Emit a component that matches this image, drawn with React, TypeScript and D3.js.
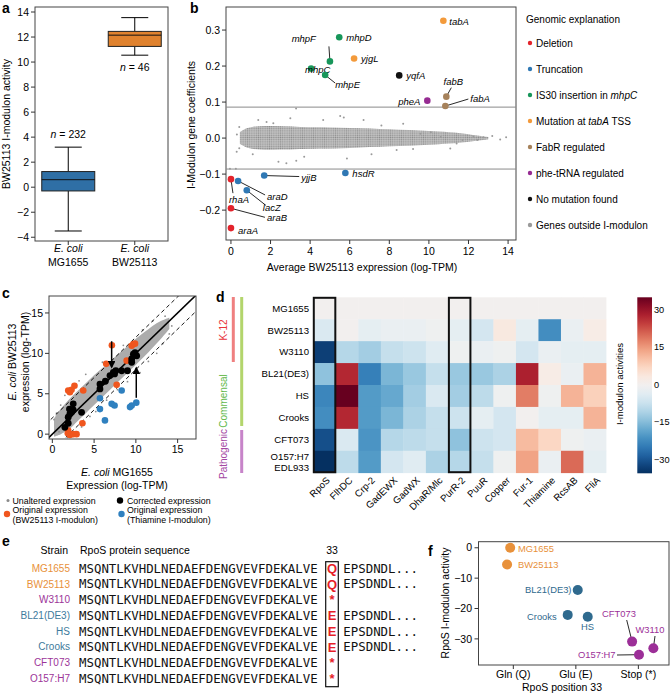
import React from 'react';
import * as d3 from 'd3';

const FONT = '"Liberation Sans", Arial, Helvetica, sans-serif';
const MONO = '"DejaVu Sans Mono", "Liberation Mono", monospace';

// ---------------- Panel a data ----------------
const strainsA = ['MG1655', 'BW25113'];
const boxMin = [-3.5, 10.55];
const boxQ1 = [-0.3, 11.25];
const boxMedian = [0.6, 12.15];
const boxQ3 = [1.25, 12.45];
const boxMax = [3.2, 13.55];
const boxN = [232, 46];
const boxColors = ['#2f6fa5', '#e0822e'];
const ticksA = [-4, -2, 0, 2, 4, 6, 8, 10, 12, 14];

// ---------------- Panel b data ----------------
const groupNames = ['Deletion', 'Truncation', 'IS30 insertion in mhpC', 'Mutation at tabA TSS', 'FabR regulated', 'phe-tRNA regulated', 'No mutation found', 'Genes outside I-modulon'];
const groupColors = ['#e3232b', '#2f78b4', '#17965a', '#f39a3b', '#a6825b', '#962b92', '#111111', '#9a9a9a'];
const geneNames = ['tabA', 'mhpD', 'mhpF', 'yjgL', 'mhpC', 'mhpE', 'yqfA', 'fabB', 'pheA', 'fabA', 'yjjB', 'hsdR', 'rhaA', 'araD', 'lacZ', 'araB', 'araA'];
const geneExpr = [10.73, 5.47, 5.0, 6.22, 4.05, 4.76, 8.5, 10.88, 9.92, 10.83, 1.68, 5.78, 0.0, 0.36, 0.8, 0.0, 0.0];
const geneCoef = [0.326, 0.28, 0.213, 0.221, 0.193, 0.175, 0.174, 0.115, 0.104, 0.089, -0.104, -0.097, -0.114, -0.119, -0.145, -0.195, -0.25];
const geneGroup = [3, 2, 2, 3, 2, 2, 6, 4, 5, 4, 1, 1, 0, 1, 1, 0, 0];
const threshold = 0.086;
const cloudBX = [0.45, 0.8, 1.5, 2.5, 3.5, 4.5, 5.5, 6.5, 7.5, 8.5, 9.5, 10.5, 11.5, 12.3, 13.0];
const cloudBHi = [0.016, 0.027, 0.033, 0.033, 0.031, 0.03, 0.029, 0.027, 0.025, 0.023, 0.021, 0.018, 0.014, 0.008, 0.003];
const cloudBLo = [-0.016, -0.026, -0.032, -0.032, -0.03, -0.029, -0.028, -0.026, -0.024, -0.022, -0.02, -0.017, -0.013, -0.008, -0.003];
const outBX = [1.38, 3.29, 5.52, 5.7, 6.7, 3.0, 2.14, 0.42, 0.3, 0.29, 0.42, 2.8, 3.3, 2.4, 3.7, 5.86, -0.05, 0.25, 7.1, 8.37, 11.08, 11.4, 10.6, 11.7, 12.25, 12.45, 12.76, 9.57, 10.1, 4.66, 8.7, 13.2, 13.6, 13.9, 1.1, 1.8, 7.6, 9.2];
const outBY = [0.05, 0.082, 0.061, 0.057, 0.05, 0.055, 0.041, 0.031, 0.01, -0.038, -0.028, -0.07, -0.063, -0.066, -0.052, -0.057, -0.085, -0.085, -0.045, -0.033, -0.029, -0.015, 0.003, -0.005, 0.004, -0.005, 0.002, 0.012, 0.016, 0.05, 0.04, 0.006, -0.004, 0.002, -0.045, 0.045, 0.035, -0.03];

// ---------------- Panel c data ----------------
const origBWX = [7.13, 9.5, 9.7, 9.9, 6.45, 8.9, 7.7, 1.9, 2.3, 2.65, 2.1, 3.7, 3.6, 1.9, 2.1, 2.5, 2.9, 1.85];
const origBWY = [11.0, 10.95, 11.15, 11.2, 8.7, 9.1, 6.1, 5.4, 5.5, 6.0, 5.2, 5.4, 1.35, 0.45, -0.1, 0.0, 0.0, 0.1];
const origThX = [5.7, 5.7, 7.1, 7.45, 8.3, 6.3, 9.3, 9.5, 10.05];
const origThY = [4.45, 3.1, 3.75, 3.55, 5.4, 1.7, 3.35, 3.55, 3.9];
const corrX = [2.05, 2.3, 2.5, 2.1, 1.9, 1.5, 1.9, 3.5, 5.7, 6.35, 5.7, 7.3, 7.6, 7.45, 6.9, 8.3, 9.0, 9.5, 9.7, 9.9, 10.1, 9.5, 2.5];
const corrY = [3.1, 2.7, 3.0, 2.5, 2.1, 0.85, 1.35, 2.7, 6.2, 6.55, 5.6, 7.65, 7.85, 7.45, 7.25, 7.85, 7.85, 8.9, 9.9, 10.1, 9.7, 9.3, 3.75];
const cloudCX = [0.2, 1, 2, 3, 4, 5, 6, 7, 8, 9, 10, 11, 12, 13, 14];
const cloudCHi = [1.9, 3.1, 4.3, 5.3, 6.3, 7.3, 8.2, 9.1, 10.0, 10.9, 11.8, 12.6, 13.4, 14.0, 14.4];
const cloudCLo = [-0.3, 0.0, 0.6, 1.6, 2.6, 3.6, 4.6, 5.6, 6.6, 7.6, 8.6, 9.6, 10.7, 11.8, 13.0];
const outCX = [0.2, 0.5, 0.8, 1.0, 1.5, 3.2, 4.0, 4.5, 5.2, 6.5, 7.8, 9.0, 10.5, 11.5, 12.5, 13.2, 14.0, 14.3, 13.5, 12.0, 10.8, 8.5, 6.0, 1.8, 2.8, 3.5];
const outCY = [1.8, 2.6, 0.3, 3.6, 4.8, 6.6, 7.4, 2.2, 2.8, 4.2, 5.5, 6.5, 7.6, 9.0, 10.0, 11.2, 12.4, 13.4, 14.6, 14.0, 12.9, 11.0, 8.9, -0.4, 0.3, 0.9];
const arrowDown = [7.1, 11.5, 8.3];
const arrowUp = [10.05, 4.5, 8.2];

// ---------------- Panel d data ----------------
const heatRows = ['MG1655', 'BW25113', 'W3110', 'BL21(DE3)', 'HS', 'Crooks', 'CFT073', 'O157:H7\nEDL933'];
const heatCols = ['RpoS', 'FlhDC', 'Crp-2', 'GadEWX', 'GadWX', 'DhaR/Mlc', 'PurR-2', 'PuuR', 'Copper', 'Fur-1', 'Thiamine', 'RcsAB', 'FliA'];
const heatValues = [
  [0, 0, 0, 0, 0, 0, 0, 0, 0, 0, 0, 0, 0],
  [-5, 0, -3, -2, -2, -1, -3, -6, 3, -3, -22, -2, 2],
  [-33, -10, -12, -8, -7, -4, -1, -2, -1, -6, -2, -3, -3],
  [-14, 27, -24, -16, -13, -8, -13, -13, -11, 28, 2, -2, 12],
  [-23, 35, -20, -18, -12, -5, -12, -9, -1, 18, -1, 12, 8],
  [-22, 27, -20, -16, -11, -8, -7, -3, -6, 0, -3, -3, 12],
  [-31, -5, -21, -10, -9, -8, -14, -7, -6, 11, 7, -1, -2],
  [-35, -9, -20, -6, -4, -11, -10, -8, -1, 14, -2, 20, -3],
];
const highlightedCols = ['RpoS', 'PurR-2'];
const colorbarTicks = [30, 15, 0, -15, -30];

// ---------------- Panel e data ----------------
const seqStrains = ['MG1655', 'BW25113', 'W3110', 'BL21(DE3)', 'HS', 'Crooks', 'CFT073', 'O157:H7'];
const seqPrefix = 'MSQNTLKVHDLNEDAEFDENGVEVFDEKALVE';
const seqResidue33 = ['Q', 'Q', '*', 'E', 'E', 'E', '*', '*'];
const seqTail = ['EPSDNDL...', 'EPSDNDL...', '', 'EPSDNDL...', 'EPSDNDL...', 'EPSDNDL...', '', ''];
const strainColors = ['#e8913a', '#e8913a', '#9c3499', '#3d7a9c', '#3d7a9c', '#3d7a9c', '#9c3499', '#9c3499'];

// ---------------- Panel f data ----------------
const fCategories = ['Gln (Q)', 'Glu (E)', 'Stop (*)'];
const fStrains = ['MG1655', 'BW25113', 'BL21(DE3)', 'Crooks', 'HS', 'CFT073', 'W3110', 'O157:H7'];
const fCategory = [0, 0, 1, 1, 1, 2, 2, 2];
const fJitter = [-0.05, -0.1, 0.03, -0.13, 0.19, -0.1, 0.24, 0.01];
const fActivity = [0, -5.5, -13.9, -22.1, -22.7, -30.9, -33.1, -35.2];
const fColors = ['#e8913a', '#e8913a', '#2f6a8e', '#2f6a8e', '#2f6a8e', '#9c2f98', '#9c2f98', '#9c2f98'];
const fTicks = [0, -10, -20, -30];

const AX = '#333';
const FS = 10.5;

function PanelLabel({ x, y, t }: { x: number; y: number; t: string }) {
  return <text x={x} y={y} fontSize={14} fontWeight="bold" fill="#000">{t}</text>;
}

function PanelA() {
  const x = d3.scalePoint<string>().domain(strainsA).range([35, 168]).padding(0.5);
  const y = d3.scaleLinear().domain([-4.3, 14.4]).range([241, 7]);
  const bw = 53;
  const cap = 27;
  return (
    <g>
      <rect x={35} y={7} width={133} height={234} fill="none" stroke="#444" />
      {ticksA.map((t) => (
        <g key={t}>
          <line x1={31} x2={35} y1={y(t)} y2={y(t)} stroke={AX} />
          <text x={29} y={y(t)} dy="0.35em" textAnchor="end" fontSize={FS}>{d3.format('d')(t)}</text>
        </g>
      ))}
      {strainsA.map((s, i) => {
        const cx = x(s)!;
        return (
          <g key={s}>
            <line x1={cx} x2={cx} y1={y(boxMax[i])} y2={y(boxQ3[i])} stroke="#000" />
            <line x1={cx} x2={cx} y1={y(boxMin[i])} y2={y(boxQ1[i])} stroke="#000" />
            <line x1={cx - cap / 2} x2={cx + cap / 2} y1={y(boxMax[i])} y2={y(boxMax[i])} stroke="#000" />
            <line x1={cx - cap / 2} x2={cx + cap / 2} y1={y(boxMin[i])} y2={y(boxMin[i])} stroke="#000" />
            <rect x={cx - bw / 2} y={y(boxQ3[i])} width={bw} height={y(boxQ1[i]) - y(boxQ3[i])} fill={boxColors[i]} stroke="#222" />
            <line x1={cx - bw / 2} x2={cx + bw / 2} y1={y(boxMedian[i])} y2={y(boxMedian[i])} stroke="#111" />
            <line x1={cx} x2={cx} y1={241} y2={245} stroke={AX} />
            <text x={cx} y={252} textAnchor="middle" fontSize={FS} fontStyle="italic">E. coli</text>
            <text x={cx} y={266} textAnchor="middle" fontSize={FS}>{s}</text>
            <text x={cx} y={i === 0 ? y(boxMax[i]) - 9 : y(boxMin[i]) + 16} textAnchor="middle" fontSize={FS}>
              <tspan fontStyle="italic">n</tspan> = {boxN[i]}
            </text>
          </g>
        );
      })}
      <text transform={`translate(10,124) rotate(-90)`} textAnchor="middle" fontSize={FS}>BW25113 I-modulon activity</text>
    </g>
  );
}

// label layouts for panel b (pixel offsets from point; lead = leader endpoint offset)
const bLabelDx = [6, 7, -14, 7, -6, 10, 7, 7, -7, 25, 37, 7, -2, 29, 16, 36, 7];
const bLabelDy = [4, 4, -19, 4, 4, 13, 4, -12, 4, -4, 5, 4, 24, 19, 21, 13, 6];
const bAnchor = ['start', 'start', 'end', 'start', 'start', 'start', 'start', 'middle', 'end', 'start', 'start', 'start', 'start', 'start', 'start', 'start', 'start'];
const bLeadDx = [0, 0, -1, 0, 0, 10, 0, 5, 0, 23, 35, 0, 2, 27, 19, 34, 0];
const bLeadDy = [0, 0, -15, 0, 0, 8, 0, -9, 0, -7, 1, 0, 14, 14, 15, 9, 0];

function PanelB() {
  const x = d3.scaleLinear().domain([-0.25, 14.4]).range([226, 516]);
  const y = d3.scaleLinear().domain([-0.283, 0.364]).range([240, 7]);
  const area = d3.area<number>()
    .x((_, i) => x(cloudBX[i]))
    .y0((_, i) => y(cloudBLo[i]))
    .y1((_, i) => y(cloudBHi[i]))
    .curve(d3.curveCatmullRom);
  const xt = d3.range(0, 15, 2);
  const yt = [-0.2, -0.1, 0, 0.1, 0.2, 0.3];
  return (
    <g>
      <rect x={226} y={7} width={290} height={233} fill="none" stroke="#444" />
      <line x1={226} x2={516} y1={y(threshold)} y2={y(threshold)} stroke="#8a8a8a" />
      <line x1={226} x2={516} y1={y(-threshold)} y2={y(-threshold)} stroke="#8a8a8a" />
      <path d={area(cloudBX) || ''} fill="#c4c4c4" />
      <path d={area(cloudBX) || ''} fill="url(#dotsB)" />
      {outBX.map((v, i) => <circle key={i} cx={x(v)} cy={y(outBY[i])} r={1} fill="#9a9a9a" />)}
      {xt.map((t) => (
        <g key={t}>
          <line x1={x(t)} x2={x(t)} y1={240} y2={244} stroke={AX} />
          <text x={x(t)} y={255} textAnchor="middle" fontSize={FS}>{t}</text>
        </g>
      ))}
      {yt.map((t) => (
        <g key={t}>
          <line x1={222} x2={226} y1={y(t)} y2={y(t)} stroke={AX} />
          <text x={220} y={y(t)} dy="0.35em" textAnchor="end" fontSize={FS}>{d3.format('.1f')(t)}</text>
        </g>
      ))}
      {geneNames.map((g, i) => {
        const px = x(geneExpr[i]);
        const py = y(geneCoef[i]);
        const hasLead = bLeadDx[i] !== 0 || bLeadDy[i] !== 0;
        return (
          <g key={g}>
            {hasLead && <line x1={px} y1={py} x2={px + bLeadDx[i]} y2={py + bLeadDy[i]} stroke="#111" strokeWidth={0.9} />}
            <circle cx={px} cy={py} r={3.3} fill={groupColors[geneGroup[i]]} />
            <text x={px + bLabelDx[i]} y={py + bLabelDy[i]} textAnchor={bAnchor[i] as any} fontSize={9.5} fontStyle="italic">{g}</text>
          </g>
        );
      })}
      <text x={362} y={271} textAnchor="middle" fontSize={FS}>Average BW25113 expression (log-TPM)</text>
      <text transform={`translate(195,125) rotate(-90)`} textAnchor="middle" fontSize={FS}>I-Modulon gene coefficients</text>
      {/* legend */}
      <text x={526} y={23} fontSize={10}>Genomic explanation</text>
      {groupNames.map((n, i) => {
        const yy = 43 + i * 26;
        let content: React.ReactNode = n;
        if (i === 2) content = <>IS30 insertion in <tspan fontStyle="italic">mhpC</tspan></>;
        if (i === 3) content = <>Mutation at <tspan fontStyle="italic">tabA</tspan> TSS</>;
        return (
          <g key={n}>
            <circle cx={530} cy={yy} r={2.2} fill={groupColors[i]} />
            <text x={536} y={yy} dy="0.35em" fontSize={10}>{content}</text>
          </g>
        );
      })}
    </g>
  );
}

function PanelC() {
  const x = d3.scaleLinear().domain([-0.4, 17.2]).range([49, 196]);
  const y = d3.scaleLinear().domain([-0.6, 17.1]).range([439, 296]);
  const area = d3.area<number>()
    .x((_, i) => x(cloudCX[i]))
    .y0((_, i) => y(cloudCLo[i]))
    .y1((_, i) => y(cloudCHi[i]))
    .curve(d3.curveCatmullRom);
  const ticks = [0, 5, 10, 15];
  const lineOffsets = [2, -2];
  const LF = 8.8;
  return (
    <g>
      <g clipPath="url(#clipC)">
        <path d={area(cloudCX) || ''} fill="#c0c0c0" />
        <path d={area(cloudCX) || ''} fill="url(#dotsC)" />
        {outCX.map((v, i) => <circle key={i} cx={x(v)} cy={y(outCY[i])} r={0.9} fill="#8f8f8f" />)}
        <line x1={x(-1)} y1={y(-1)} x2={x(18)} y2={y(18)} stroke="#000" strokeWidth={1.6} />
        {lineOffsets.map((o) => (
          <line key={o} x1={x(-2)} y1={y(-2 + o)} x2={x(19)} y2={y(19 + o)} stroke="#000" strokeWidth={0.9} strokeDasharray="4,3" />
        ))}
        {origBWX.map((v, i) => <circle key={'o' + i} cx={x(v)} cy={y(origBWY[i])} r={3.3} fill="#f0561e" />)}
        {origThX.map((v, i) => <circle key={'t' + i} cx={x(v)} cy={y(origThY[i])} r={3.3} fill="#2f80bf" />)}
        {corrX.map((v, i) => <circle key={'c' + i} cx={x(v)} cy={y(corrY[i])} r={3.4} fill="#000" />)}
        <line x1={x(arrowDown[0])} x2={x(arrowDown[0])} y1={y(arrowDown[1])} y2={y(arrowDown[2])} stroke="#000" strokeWidth={1.5} markerEnd="url(#arrowHead)" />
        <line x1={x(arrowUp[0])} x2={x(arrowUp[0])} y1={y(arrowUp[1])} y2={y(arrowUp[2])} stroke="#000" strokeWidth={1.5} markerEnd="url(#arrowHead)" />
      </g>
      <rect x={49} y={296} width={147} height={143} fill="none" stroke="#444" />
      {ticks.map((t) => (
        <g key={t}>
          <line x1={x(t)} x2={x(t)} y1={439} y2={443} stroke={AX} />
          <text x={x(t)} y={453} textAnchor="middle" fontSize={FS}>{t}</text>
          <line x1={45} x2={49} y1={y(t)} y2={y(t)} stroke={AX} />
          <text x={43} y={y(t)} dy="0.35em" textAnchor="end" fontSize={FS}>{t}</text>
        </g>
      ))}
      <text x={117} y={476} textAnchor="middle" fontSize={FS}><tspan fontStyle="italic">E. coli</tspan> MG1655</text>
      <text x={117} y={489} textAnchor="middle" fontSize={FS}>Expression (log-TPM)</text>
      <text transform="translate(16,362) rotate(-90)" textAnchor="middle" fontSize={FS}><tspan fontStyle="italic">E. coli</tspan> BW25113</text>
      <text transform="translate(29,362) rotate(-90)" textAnchor="middle" fontSize={FS}>expression (log-TPM)</text>
      {/* legend */}
      <circle cx={8} cy={500.5} r={1.5} fill="#8a8a8a" />
      <text x={12.5} y={500.5} dy="0.35em" fontSize={LF}>Unaltered expression</text>
      <circle cx={120} cy={500.5} r={3.2} fill="#000" />
      <text x={127} y={500.5} dy="0.35em" fontSize={LF}>Corrected expression</text>
      <circle cx={7} cy={514} r={3.2} fill="#f0561e" />
      <text x={12.5} y={509.5} dy="0.35em" fontSize={LF}>Original expression</text>
      <text x={12.5} y={519.5} dy="0.35em" fontSize={LF}>(BW25113 I-modulon)</text>
      <circle cx={121.5} cy={514} r={3.2} fill="#2f80bf" />
      <text x={127} y={509.5} dy="0.35em" fontSize={LF}>Original expression</text>
      <text x={127} y={519.5} dy="0.35em" fontSize={LF}>(Thiamine I-modulon)</text>
    </g>
  );
}

function heatColor(v: number) {
  return d3.interpolateRdBu((35 - v) / 70);
}

function PanelD() {
  const x = d3.scaleBand<string>().domain(heatCols).range([313.3, 606]);
  const y = d3.scaleBand<string>().domain(heatRows).range([297.3, 472.7]);
  const cb = d3.scaleLinear().domain([-35.5, 35]).range([473.3, 297.3]);
  const stops = d3.range(0, 1.0001, 0.05);
  const HF = 9.6;
  return (
    <g>
      {heatRows.map((r, ri) => heatCols.map((c, ci) => (
        <rect key={r + c} x={x(c)!} y={y(r)!} width={x.bandwidth() + 0.4} height={y.bandwidth() + 0.4} fill={heatColor(heatValues[ri][ci])} />
      )))}
      {highlightedCols.map((c) => (
        <rect key={c} x={x(c)! + 0.5} y={297.8} width={x.bandwidth() - 1} height={174.4} fill="none" stroke="#111" strokeWidth={2} />
      ))}
      {heatRows.map((r) => {
        const cy = y(r)! + y.bandwidth() / 2;
        const parts = r.split('\n');
        if (parts.length === 1) return <text key={r} x={309} y={cy} dy="0.35em" textAnchor="end" fontSize={HF}>{r}</text>;
        return (
          <g key={r}>
            <text x={309} y={cy - 5} dy="0.35em" textAnchor="end" fontSize={HF}>{parts[0]}</text>
            <text x={309} y={cy + 6} dy="0.35em" textAnchor="end" fontSize={HF}>{parts[1]}</text>
          </g>
        );
      })}
      {heatCols.map((c) => {
        const cx = x(c)! + x.bandwidth() / 2;
        return <text key={c} transform={`translate(${cx + 6},${481}) rotate(-45)`} textAnchor="end" fontSize={HF}>{c}</text>;
      })}
      {/* group bars */}
      <line x1={233.3} x2={233.3} y1={297} y2={362} stroke="#ef8080" strokeWidth={3} />
      <line x1={241.7} x2={241.7} y1={297} y2={426} stroke="#b3d56c" strokeWidth={3} />
      <line x1={241.7} x2={241.7} y1={430} y2={473} stroke="#c784c9" strokeWidth={3} />
      <text transform="translate(227,330) rotate(-90)" textAnchor="middle" fontSize={10} fill="#e8333a">K-12</text>
      <text transform="translate(227,401) rotate(-90)" textAnchor="middle" fontSize={10} fill="#62b84a">Commensal</text>
      <text transform="translate(227,454) rotate(-90)" textAnchor="middle" fontSize={10} fill="#a346a3">Pathogenic</text>
      {/* colorbar */}
      <defs>
        <linearGradient id="cbGrad" x1="0" y1="1" x2="0" y2="0">
          {stops.map((s) => <stop key={s} offset={s} stopColor={heatColor(-35.5 + s * 70.5)} />)}
        </linearGradient>
      </defs>
      <rect x={637.3} y={297.3} width={14.7} height={176} fill="url(#cbGrad)" />
      {colorbarTicks.map((t) => (
        <text key={t} x={654} y={cb(t)} dy="0.35em" fontSize={9.2}>{d3.format('d')(t)}</text>
      ))}
      <text transform="translate(623,384) rotate(-90)" textAnchor="middle" fontSize={9.6}>I-modulon activities</text>
    </g>
  );
}

function PanelE() {
  const rowY = d3.scaleLinear().domain([0, 7]).range([568.3, 678.3]);
  return (
    <g>
      <text x={68} y={554} textAnchor="end" fontSize={FS}>Strain</text>
      <text x={80} y={554} fontSize={FS}>RpoS protein sequence</text>
      <text x={332} y={554} textAnchor="middle" fontSize={FS}>33</text>
      {seqStrains.map((s, i) => {
        const cy = rowY(i);
        return (
          <g key={s}>
            <text x={70} y={cy} dy="0.35em" textAnchor="end" fontSize={10} fill={strainColors[i]}>{s}</text>
            <text x={79} y={cy} dy="0.36em" fontSize={12.4} fontFamily={MONO} fill="#111">{seqPrefix}</text>
            <text x={332} y={cy} dy="0.36em" textAnchor="middle" fontSize={13} fontWeight="bold" fontFamily={FONT} fill="#e61e28">{seqResidue33[i]}</text>
            {seqTail[i] && <text x={343.3} y={cy} dy="0.36em" fontSize={12.4} fontFamily={MONO} fill="#111">{seqTail[i]}</text>}
          </g>
        );
      })}
      <rect x={325.7} y={561.7} width={12.6} height={125} fill="none" stroke="#111" strokeWidth={1.2} />
    </g>
  );
}

// label placement for panel f
const fLabelX = [518, 518, 571.5, 556.7, 587.5, 619, 650, 615.5];
const fLabelY = [548.3, 564.3, 590, 616.7, 627, 613.3, 630, 655];
const fAnchor = ['start', 'start', 'end', 'end', 'middle', 'middle', 'middle', 'end'];
const fLead = [null, null, null, null, null, [626.7, 620], [655, 636], [617, 655]] as (number[] | null)[];

function PanelF() {
  const x = d3.scaleLinear().domain([-0.557, 2.49]).range([478.5, 669]);
  const y = d3.scaleLinear().domain([-38.6, 2]).range([665, 541.7]);
  return (
    <g>
      <rect x={478.5} y={541.7} width={190.5} height={123.3} fill="none" stroke="#444" />
      {fTicks.map((t) => (
        <g key={t}>
          <line x1={474.5} x2={478.5} y1={y(t)} y2={y(t)} stroke={AX} />
          <text x={472} y={y(t)} dy="0.35em" textAnchor="end" fontSize={FS}>{d3.format('d')(t)}</text>
        </g>
      ))}
      {fCategories.map((c, i) => (
        <g key={c}>
          <line x1={x(i)} x2={x(i)} y1={665} y2={669} stroke={AX} />
          <text x={x(i)} y={677.5} textAnchor="middle" fontSize={FS}>{c}</text>
        </g>
      ))}
      {fStrains.map((s, i) => {
        const px = x(fCategory[i] + fJitter[i]);
        const py = y(fActivity[i]);
        const lead = fLead[i];
        return (
          <g key={s}>
            {lead && <line x1={lead[0]} y1={lead[1]} x2={px} y2={py} stroke="#111" strokeWidth={0.9} />}
            <circle cx={px} cy={py} r={5} fill={fColors[i]} />
            <text x={fLabelX[i]} y={fLabelY[i]} dy="0.35em" textAnchor={fAnchor[i] as any} fontSize={9.4} fill={fColors[i]}>{s}</text>
          </g>
        );
      })}
      <text x={562} y={691} textAnchor="middle" fontSize={FS}>RpoS position 33</text>
      <text transform="translate(449,603) rotate(-90)" textAnchor="middle" fontSize={FS}>RpoS I-modulon activity</text>
    </g>
  );
}

export default function App() {
  return (
    <svg width={670} height={694} style={{ position: 'absolute', left: 0, top: 0, background: '#fff' }} fontFamily={FONT}>
      <defs>
        <pattern id="dotsB" width={2.2} height={2.2} patternUnits="userSpaceOnUse">
          <circle cx={1.1} cy={1.1} r={0.75} fill="#8c8c8c" />
        </pattern>
        <pattern id="dotsC" width={2} height={2} patternUnits="userSpaceOnUse">
          <circle cx={1} cy={1} r={0.7} fill="#888" />
        </pattern>
        <clipPath id="clipC">
          <rect x={49} y={296} width={147} height={143} />
        </clipPath>
        <marker id="arrowHead" viewBox="0 0 10 10" refX={8} refY={5} markerWidth={5} markerHeight={5} orient="auto">
          <path d="M0,0 L10,5 L0,10 z" fill="#000" />
        </marker>
      </defs>
      <PanelLabel x={2} y={13} t="a" />
      <PanelLabel x={190} y={13} t="b" />
      <PanelLabel x={2} y={298} t="c" />
      <PanelLabel x={216} y={302} t="d" />
      <PanelLabel x={2} y={546} t="e" />
      <PanelLabel x={428} y={556} t="f" />
      <PanelA />
      <PanelB />
      <PanelC />
      <PanelD />
      <PanelE />
      <PanelF />
    </svg>
  );
}
